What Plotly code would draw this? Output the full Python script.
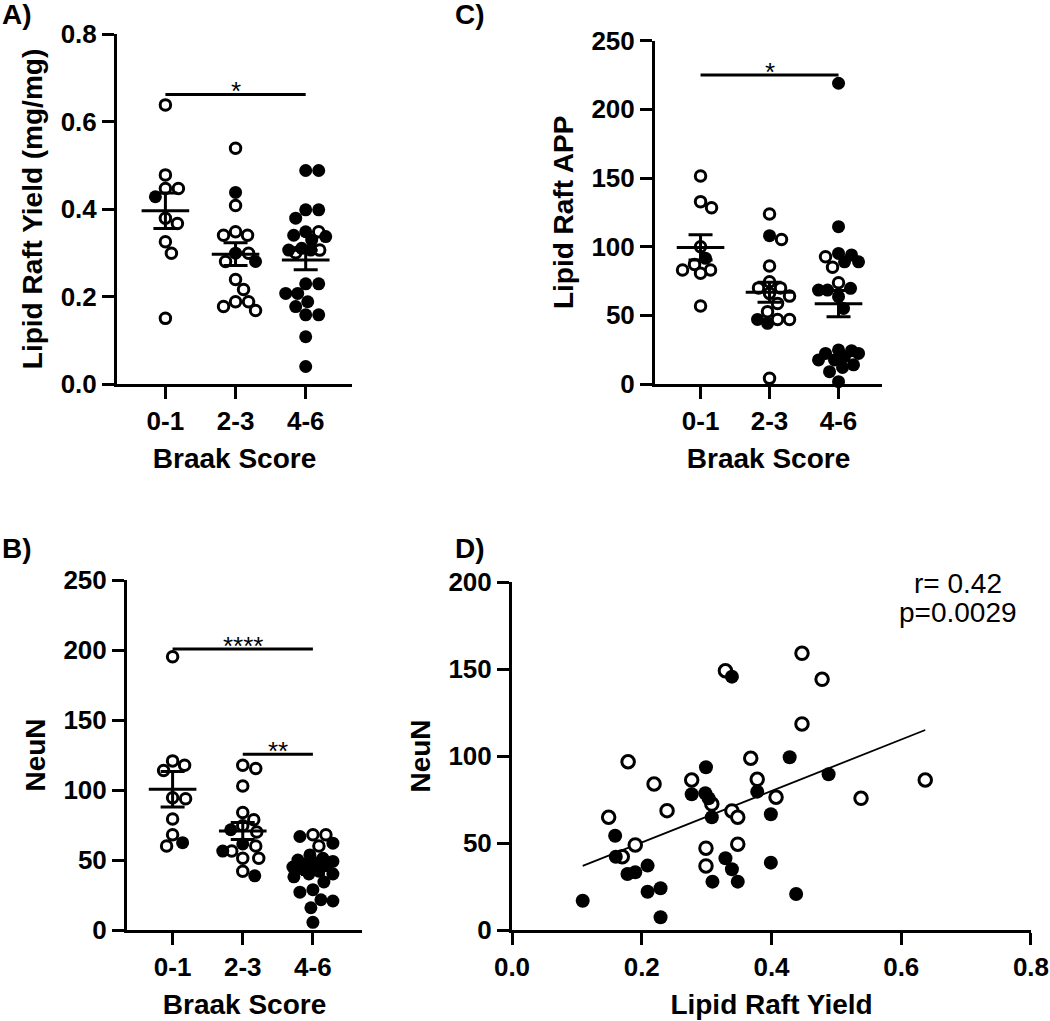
import numpy as np
import plotly.graph_objects as go

W, H = 1050, 1021

# ---------------- data ----------------
groups = ["0-1", "2-3", "4-6"]

# Panel A: Lipid raft yield (mg/mg) by Braak score; fill flag 1 = filled circle
a_vals_01 = [0.638, 0.478, 0.447, 0.447, 0.428, 0.379, 0.367, 0.325, 0.299, 0.150]
a_fill_01 = [0, 0, 0, 0, 1, 0, 0, 0, 0, 0]
a_vals_23 = [0.539, 0.438, 0.408, 0.340, 0.340, 0.348, 0.299, 0.299, 0.280, 0.280,
             0.239, 0.216, 0.188, 0.177, 0.188, 0.168]
a_fill_23 = [0, 1, 0, 0, 0, 0, 1, 0, 0, 1, 0, 0, 0, 0, 0, 0]
a_vals_46 = [0.488, 0.488, 0.398, 0.398, 0.379, 0.348, 0.340, 0.329, 0.348, 0.337,
             0.306, 0.306, 0.310, 0.306, 0.300, 0.229, 0.229, 0.207, 0.207, 0.188,
             0.177, 0.158, 0.158, 0.108, 0.040]
a_fill_46 = [1, 1, 1, 1, 1, 1, 1, 1, 0, 1, 0, 1, 1, 1, 0, 1, 1, 1, 1, 1, 1, 1, 1, 1, 1]

# Panel C: Lipid raft APP
c_vals_01 = [151.5, 132.8, 128.4, 100.0, 91.5, 87.1, 83.0, 83.0, 80.6, 56.8]
c_fill_01 = [0, 0, 0, 0, 1, 0, 0, 0, 0, 0]
c_vals_23 = [123.8, 108.0, 105.3, 85.9, 74.5, 70.0, 70.0, 66.0, 64.0, 58.7,
             52.7, 47.0, 47.0, 47.0, 44.2, 4.1]
c_fill_23 = [0, 1, 0, 0, 0, 0, 0, 0, 0, 0, 0, 0, 1, 0, 1, 0]
c_vals_46 = [219.0, 114.6, 95.1, 94.0, 92.7, 89.0, 89.0, 85.0, 73.8, 69.7,
             68.4, 68.4, 63.6, 55.0, 24.8, 24.3, 22.3, 22.3, 20.0, 17.5,
             17.5, 14.0, 12.0, 9.0, 1.7]
c_fill_46 = [1, 1, 1, 1, 0, 1, 1, 0, 0, 1, 1, 1, 1, 1, 1, 1, 1, 1, 1, 1, 1, 1, 1, 1, 1]

# Panel B: NeuN
b_vals_01 = [195.2, 120.8, 117.7, 114.0, 94.4, 93.7, 79.3, 68.0, 62.4, 60.0]
b_fill_01 = [0, 0, 0, 0, 0, 0, 0, 0, 1, 0]
b_vals_23 = [117.7, 115.3, 102.8, 84.0, 78.8, 74.4, 71.6, 70.0, 61.5, 60.0,
             56.4, 56.4, 51.2, 51.2, 42.0, 38.7]
b_fill_23 = [0, 0, 0, 0, 0, 0, 1, 0, 1, 0, 0, 1, 0, 0, 0, 1]
b_vals_46 = [68.0, 68.0, 66.8, 62.0, 60.0, 53.6, 51.2, 50.0, 49.0, 48.0,
             47.0, 46.0, 45.0, 44.0, 42.0, 40.0, 40.0, 38.0, 34.3, 28.8,
             27.0, 21.6, 20.7, 15.9, 5.5]
b_fill_46 = [0, 0, 1, 1, 0, 1, 1, 1, 1, 1, 1, 1, 1, 1, 1, 1, 1, 1, 1, 1, 1, 1, 1, 1, 1]

# Panel D: NeuN vs lipid raft yield
d_yield = [0.109, 0.149, 0.159, 0.160, 0.170, 0.190, 0.178, 0.190, 0.209, 0.209,
           0.229, 0.229, 0.179, 0.219, 0.239, 0.299, 0.277, 0.277, 0.298, 0.303,
           0.308, 0.308, 0.339, 0.348, 0.299, 0.299, 0.348, 0.329, 0.339, 0.309,
           0.348, 0.329, 0.339, 0.447, 0.447, 0.368, 0.378, 0.378, 0.407, 0.428,
           0.399, 0.399, 0.438, 0.478, 0.488, 0.538, 0.637]
d_neun = [16.8, 64.8, 54.2, 42.1, 42.1, 48.9, 32.2, 33.2, 37.0, 22.0,
          24.0, 7.3, 96.7, 83.9, 68.6, 93.5, 86.2, 78.0, 78.6, 75.7,
          72.4, 64.8, 68.4, 64.8, 47.0, 36.8, 49.3, 41.2, 34.9, 27.8,
          27.8, 149.0, 145.6, 159.0, 118.4, 98.7, 86.6, 79.5, 76.3, 99.3,
          66.5, 38.7, 20.7, 144.1, 89.5, 75.7, 86.2]
d_fill = [1, 0, 1, 1, 0, 0, 1, 1, 1, 1,
          1, 1, 0, 0, 0, 1, 0, 1, 1, 1,
          0, 1, 0, 0, 0, 0, 0, 1, 1, 1,
          1, 0, 1, 0, 0, 0, 0, 1, 0, 1,
          1, 1, 1, 0, 1, 0, 0]
d_stats = ["r= 0.42", "p=0.0029"]

# significance brackets: (x_start_group, x_end_group, y_value, label)
sig_a = [(0, 2, 0.662, "*")]
sig_c = [(0, 2, 225.0, "*")]
sig_b = [(0, 2, 200.7, "****"), (1, 2, 125.5, "**")]

# ---------------- layout geometry (pixels) ----------------
FONT = "Arial, Liberation Sans, Helvetica, sans-serif"


def fx(px):
    return px / W


def fy(py):
    return 1 - py / H


panels = {
    # name: (x_left, x_right, y_top, y_bottom, xrange, yrange)
    "A": (117, 352, 34, 384, [-0.69, 2.66], [0, 0.8]),
    "C": (655, 882, 40.7, 384, [-0.66, 2.63], [0, 250]),
    "B": (127, 362, 580, 930, [-0.65, 2.70], [0, 250]),
    "D": (512, 1031, 582, 930, [0, 0.80001], [0, 200.0001]),
}
axis_ids = {"A": "", "C": "2", "B": "3", "D": "4"}


def swarm(vals, center, ppx, ppy, d=12.5, maxw=20.0):
    vals = np.asarray(vals, dtype=float)
    order = np.argsort(-vals, kind="stable")
    placed = []
    xs = np.zeros(len(vals))
    for idx in order:
        yp = vals[idx] * ppy
        best, bestscore = 0.0, -1.0
        done = False
        for step in np.arange(0, maxw + 0.01, 1.0):
            cands = [0.0] if step == 0 else [step, -step]
            for s in cands:
                if placed:
                    mind = min(np.hypot(s - p[0], yp - p[1]) for p in placed)
                else:
                    mind = 1e9
                if mind >= d:
                    best, done = s, True
                    break
                if mind > bestscore:
                    bestscore, best = mind, s
            if done:
                break
        placed.append((best, yp))
        xs[idx] = center + best / ppx
    return xs


fig = go.Figure()


def add_dotplot(panel, vals_list, fill_list, sizes=(10.5, 13)):
    xl, xr, yt, yb, xr_, yr_ = panels[panel]
    ppx = (xr - xl) / (xr_[1] - xr_[0])
    ppy = (yb - yt) / (yr_[1] - yr_[0])
    aid = axis_ids[panel]
    for gi, (vals, fills) in enumerate(zip(vals_list, fill_list)):
        xs = swarm(vals, gi, ppx, ppy)
        vals = np.asarray(vals)
        fills = np.asarray(fills)
        op = fills == 0
        fl = fills == 1
        fig.add_trace(go.Scatter(
            x=xs[op], y=vals[op], mode="markers", xaxis="x" + aid, yaxis="y" + aid,
            marker=dict(symbol="circle", size=sizes[0], color="white",
                        line=dict(color="black", width=3)),
            cliponaxis=False, showlegend=False, hoverinfo="skip"))
        fig.add_trace(go.Scatter(
            x=xs[fl], y=vals[fl], mode="markers", xaxis="x" + aid, yaxis="y" + aid,
            marker=dict(symbol="circle", size=sizes[1], color="black",
                        line=dict(width=0)),
            cliponaxis=False, showlegend=False, hoverinfo="skip"))
    # mean +/- SEM
    means = [float(np.mean(v)) for v in vals_list]
    sems = [float(np.std(v, ddof=1) / np.sqrt(len(v))) for v in vals_list]
    fig.add_trace(go.Scatter(
        x=list(range(len(vals_list))), y=means, mode="markers",
        xaxis="x" + aid, yaxis="y" + aid,
        marker=dict(symbol="line-ew", size=34, color="black",
                    line=dict(color="black", width=3)),
        error_y=dict(type="data", array=sems, visible=True, width=12,
                     thickness=3, color="black"),
        cliponaxis=False, showlegend=False, hoverinfo="skip"))


def add_sig(panel, sigs):
    aid = axis_ids[panel]
    for (g0, g1, yv, lab) in sigs:
        fig.add_shape(type="line", xref="x" + aid, yref="y" + aid,
                      x0=g0, x1=g1, y0=yv, y1=yv,
                      line=dict(color="black", width=3))
        fig.add_annotation(xref="x" + aid, yref="y" + aid, x=(g0 + g1) / 2, y=yv,
                           text=lab, showarrow=False, yanchor="bottom",
                           yshift=-14, font=dict(family=FONT, size=26, color="black"))


add_dotplot("A", [a_vals_01, a_vals_23, a_vals_46], [a_fill_01, a_fill_23, a_fill_46])
add_dotplot("C", [c_vals_01, c_vals_23, c_vals_46], [c_fill_01, c_fill_23, c_fill_46])
add_dotplot("B", [b_vals_01, b_vals_23, b_vals_46], [b_fill_01, b_fill_23, b_fill_46])
add_sig("A", sig_a)
add_sig("C", sig_c)
add_sig("B", sig_b)

# Panel D scatter + regression
dx = np.asarray(d_yield)
dy = np.asarray(d_neun)
df = np.asarray(d_fill)
slope, intercept = np.polyfit(dx, dy, 1)
lx = np.array([dx.min(), dx.max()])
fig.add_trace(go.Scatter(x=lx, y=intercept + slope * lx, mode="lines",
                         xaxis="x4", yaxis="y4", line=dict(color="black", width=1.8),
                         showlegend=False, hoverinfo="skip"))
fig.add_trace(go.Scatter(x=dx[df == 0], y=dy[df == 0], mode="markers", xaxis="x4", yaxis="y4",
                         marker=dict(symbol="circle", size=12.5, color="white",
                                     line=dict(color="black", width=3)),
                         cliponaxis=False, showlegend=False, hoverinfo="skip"))
fig.add_trace(go.Scatter(x=dx[df == 1], y=dy[df == 1], mode="markers", xaxis="x4", yaxis="y4",
                         marker=dict(symbol="circle", size=14, color="black", line=dict(width=0)),
                         cliponaxis=False, showlegend=False, hoverinfo="skip"))

# ---------------- axes ----------------
tickfont = dict(family=FONT, size=26, color="black", weight="bold")
titlefont = dict(family=FONT, size=28, color="black", weight="bold")
common = dict(showline=True, linecolor="black", linewidth=3, ticks="outside",
              ticklen=12, tickwidth=3, tickcolor="black", showgrid=False,
              zeroline=False, tickfont=tickfont, fixedrange=True, automargin=False,
              ticklabeloverflow="allow")

ytitles = {"A": "Lipid Raft Yield (mg/mg)", "C": "Lipid Raft APP", "B": "NeuN", "D": "NeuN"}
xtitles = {"A": "Braak Score", "C": "Braak Score", "B": "Braak Score", "D": "Lipid Raft Yield"}
yticks = {"A": [0, 0.2, 0.4, 0.6, 0.8], "C": [0, 50, 100, 150, 200, 250],
          "B": [0, 50, 100, 150, 200, 250], "D": [0, 50, 100, 150, 200]}
ytickfmt = {"A": ".1f", "C": "d", "B": "d", "D": "d"}

layout = dict(width=W, height=H, margin=dict(l=0, r=0, t=0, b=0, autoexpand=False),
              paper_bgcolor="white", plot_bgcolor="white", showlegend=False)

for p, (xl, xr, yt, yb, xr_, yr_) in panels.items():
    aid = axis_ids[p]
    xkey = "xaxis" + aid
    ykey = "yaxis" + aid
    if p == "D":
        xt = dict(tickvals=[0, 0.2, 0.4, 0.6, 0.8], tickformat=".1f")
    else:
        xt = dict(tickvals=[0, 1, 2], ticktext=groups)
    layout[xkey] = dict(common, domain=[fx(xl), fx(xr)], range=xr_,
                        anchor="y" + aid,
                        title=dict(text=xtitles[p], font=titlefont, standoff=14), **xt)
    layout[ykey] = dict(common, domain=[fy(yb), fy(yt)], range=yr_,
                        anchor="x" + aid, tickvals=yticks[p], tickformat=ytickfmt[p],
                        title=dict(text=ytitles[p], font=titlefont, standoff=10))

fig.update_layout(**layout)

# panel letters
for lab, (px, py) in {"A)": (0, 14), "C)": (453, 14), "B)": (0, 548), "D)": (453, 548)}.items():
    fig.add_annotation(xref="paper", yref="paper", x=fx(px), y=fy(py), text=lab,
                       showarrow=False, xanchor="left", yanchor="middle",
                       font=dict(family=FONT, size=28, color="black", weight="bold"))

# stats text in panel D
for t, py in zip(d_stats, [583, 612]):
    fig.add_annotation(xref="paper", yref="paper", x=fx(958), y=fy(py), text=t,
                       showarrow=False, xanchor="center", yanchor="middle",
                       font=dict(family=FONT, size=28, color="black"))

fig.write_html("out.html", config={"displayModeBar": False},
               post_script="document.body.style.margin='0px';")
